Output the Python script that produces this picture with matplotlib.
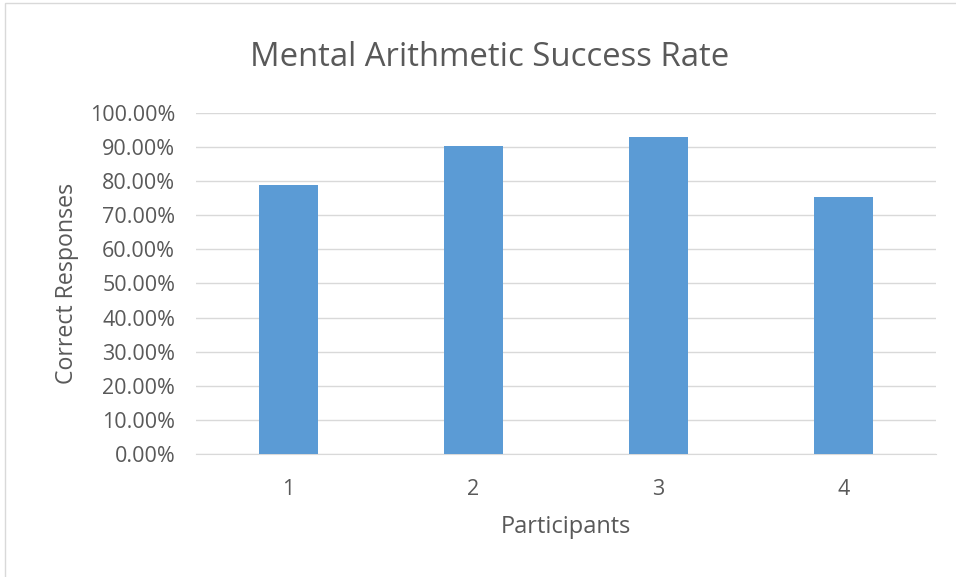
import matplotlib
matplotlib.use("Agg")
import matplotlib.pyplot as plt
from matplotlib.patches import Rectangle
from matplotlib.ticker import FuncFormatter, MultipleLocator

participants = ["1", "2", "3", "4"]
success_rate = [0.790, 0.903, 0.931, 0.755]

plt.rcParams['font.family'] = ['Open Sans', 'DejaVu Sans']
grey = "#595959"

fig = plt.figure(figsize=(9.56, 5.77), dpi=100)
ax = fig.add_axes([0.205, 0.2132, 0.774, 0.591])

x = range(len(participants))
ax.bar(x, success_rate, width=0.315, color="#5B9BD5", zorder=3)

ax.set_xlim(-0.5, 3.5)
ax.set_ylim(0, 1.0)
ax.yaxis.set_major_locator(MultipleLocator(0.1))
ax.yaxis.set_major_formatter(FuncFormatter(lambda v, p: "%.2f%%" % (v * 100)))
ax.set_xticks(list(x))
ax.set_xticklabels(participants)
ax.grid(axis="y", color="#d9d9d9", linewidth=1, zorder=0)
for s in ["top", "right", "left"]:
    ax.spines[s].set_visible(False)
ax.spines["bottom"].set_color("#d9d9d9")
ax.tick_params(axis="both", length=0, colors=grey, labelsize=15.5)
ax.tick_params(axis="y", pad=15)
ax.tick_params(axis="x", pad=18)

ax.set_xlabel("Participants", fontsize=17, color=grey, labelpad=11)
ax.set_ylabel("Correct Responses", fontsize=16.7, color=grey, labelpad=8)
fig.text(0.512, 0.9, "Mental Arithmetic Success Rate", fontsize=23.7,
         color=grey, ha="center", va="center")

fig.patches.append(Rectangle((0.005, -0.1), 1.1, 1.095, transform=fig.transFigure,
                             fill=False, edgecolor="#d9d9d9", linewidth=1))

fig.savefig("out.png", dpi=100)
